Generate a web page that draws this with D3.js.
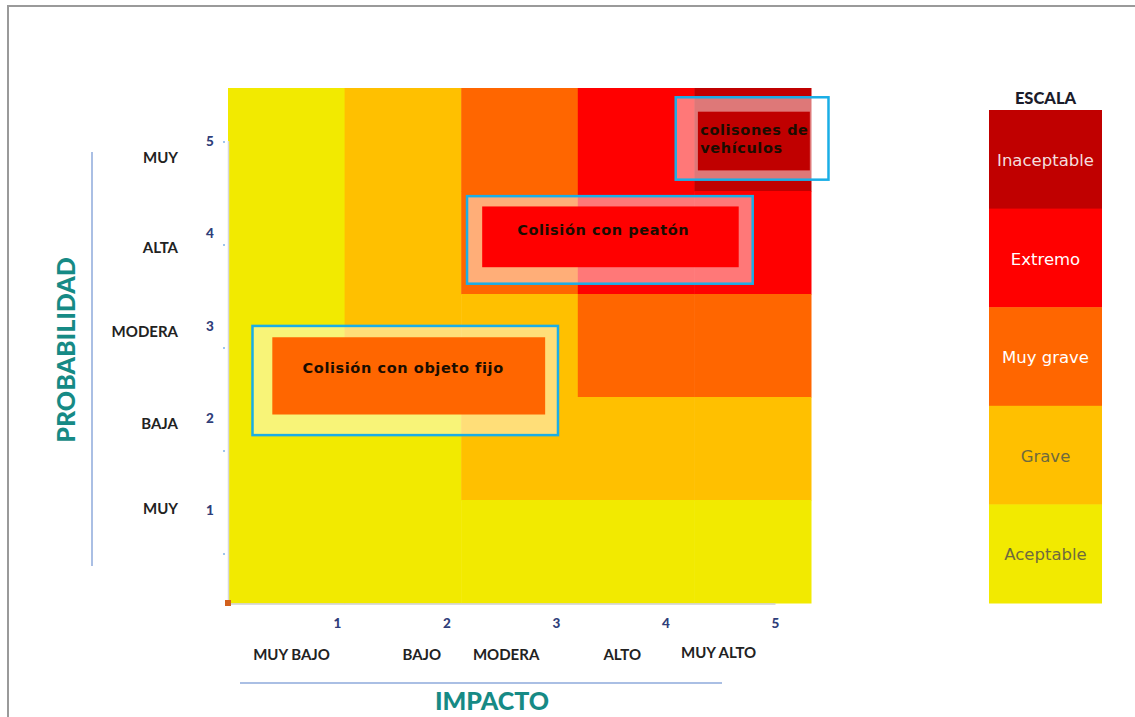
<!DOCTYPE html>
<html><head><meta charset="utf-8">
<script src="https://cdn.jsdelivr.net/npm/d3@7"></script>
<style>
html,body{margin:0;padding:0;background:#fff;overflow:hidden;}
svg{display:block;}
</style></head>
<body>
<svg id="chart" width="1135" height="717"></svg>
<script>
// ---------- DATA ----------
const impactValues = [1, 2, 3, 4, 5];
const probValues = [5, 4, 3, 2, 1];
// risk level per probability row (top = 5) and impact column (1..5)
const riskRow5 = [1, 2, 3, 4, 5];
const riskRow4 = [1, 2, 3, 4, 4];
const riskRow3 = [1, 2, 2, 3, 3];
const riskRow2 = [1, 1, 2, 2, 2];
const riskRow1 = [1, 1, 1, 1, 1];
const riskRows = [riskRow5, riskRow4, riskRow3, riskRow2, riskRow1];

const levelNames = ["Aceptable", "Grave", "Muy grave", "Extremo", "Inaceptable"];
const levelColors = ["#F2EA00", "#FFC000", "#FF6600", "#FF0000", "#C00000"];
const levelTextColors = ["#6f6a3e", "#6f6a3e", "#ffffff", "#ffffff", "#f4dede"];

const xTickValues = [1, 2, 3, 4, 5];
const yTickValues = [1, 2, 3, 4, 5];
const impactLabels = ["MUY BAJO", "BAJO", "MODERA", "ALTO", "MUY ALTO"];
const impactLabelPos = [0.58, 1.77, 2.54, 3.60, 4.48];
const impactLabelLift = [0, 0, 0, 0, 0.02];
const probLabels = ["MUY", "ALTA", "MODERA", "BAJA", "MUY"];
const probLabelPos = [4.82, 3.85, 2.94, 1.94, 1.02];

// annotated risks, in (impact, probability) units
const riskNames = ["colisones de|vehículos", "Colisión con peatón", "Colisión con objeto fijo"];
const riskLevel = [5, 4, 3];
const outerX = [[4.34, 5.65], [2.55, 5.00], [0.71, 3.33]];
const outerY = [[5.41, 4.61], [4.45, 3.60], [3.19, 2.13]];
const innerX = [[4.53, 5.49], [2.68, 4.88], [0.88, 3.22]];
const innerY = [[5.27, 4.70], [4.35, 3.76], [3.08, 2.33]];
const labelX = [4.55, 2.98, 1.14];
const labelY = [5.09, 4.12, 2.78];

// ---------- LAYOUT ----------
const svg = d3.select("#chart");
const gridLeft = 228, gridRight = 811, gridTop = 88, gridBottom = 603;

const xb = d3.scaleBand().domain(impactValues).range([gridLeft, gridRight]);
const yb = d3.scaleBand().domain(probValues).range([gridTop, gridBottom]);
const xc = d3.scaleLinear().domain([0.5, 5.5]).range([gridLeft, gridRight]);
const yc = d3.scaleLinear().domain([0.5, 5.5]).range([gridBottom, gridTop]);
const xs = d3.scaleLinear().domain([0, 5]).range([gridLeft, 775.5]);
const ys = d3.scaleLinear().domain([0, 5]).range([gridBottom, 141]);

const color = d3.scaleOrdinal().domain([1, 2, 3, 4, 5]).range(levelColors);

// outer frame
svg.append("rect").attr("x", 8).attr("y", 6).attr("width", 1200).attr("height", 800)
  .attr("fill", "none").attr("stroke", "#9a9a9a").attr("stroke-width", 2);

// heatmap cells
const cells = [];
riskRows.forEach((row, i) => row.forEach((lv, j) => cells.push({p: probValues[i], im: impactValues[j], lv: lv})));
svg.append("g").selectAll("rect").data(cells).join("rect")
  .attr("x", d => xb(d.im)).attr("y", d => yb(d.p))
  .attr("width", xb.bandwidth() + 0.5).attr("height", yb.bandwidth() + 0.5)
  .attr("fill", d => color(d.lv));

// axes lines
svg.append("line").attr("x1", xs(0) + 0.5).attr("x2", xs(0) + 0.5).attr("y1", ys(5)).attr("y2", ys(0))
  .attr("stroke", "#d8d8d8").attr("stroke-width", 1.5);
svg.append("line").attr("x1", xs(0)).attr("x2", xs(5)).attr("y1", ys(0) + 1).attr("y2", ys(0) + 1)
  .attr("stroke", "#cfcfcf").attr("stroke-width", 1.5);
svg.append("g").selectAll("circle").data(yTickValues).join("circle")
  .attr("cx", gridLeft - 4).attr("cy", d => yc(d) + 2.5).attr("r", 1).attr("fill", "#7fb2e8");
svg.append("rect").attr("x", gridLeft - 3).attr("y", gridBottom - 3).attr("width", 6).attr("height", 6)
  .attr("fill", "#d2601c");

// numeric tick labels
svg.append("g").selectAll("text").data(yTickValues).join("text")
  .attr("x", 210).attr("y", d => ys(d)).attr("dy", "0.35em").attr("text-anchor", "middle")
  .attr("font-family", "Lato, sans-serif").attr("font-weight", 900).attr("font-size", 13.5)
  .attr("fill", "#2f3e7a").text(d => d);
svg.append("g").selectAll("text").data(xTickValues).join("text")
  .attr("x", d => xs(d)).attr("y", 623).attr("dy", "0.35em").attr("text-anchor", "middle")
  .attr("font-family", "Lato, sans-serif").attr("font-weight", 900).attr("font-size", 13.5)
  .attr("fill", "#2f3e7a").text(d => d);

// category labels
svg.append("g").selectAll("text").data(impactLabels).join("text")
  .attr("x", (d, i) => xs(impactLabelPos[i])).attr("y", (d, i) => 655 - impactLabelLift[i] * 100).attr("dy", "0.35em")
  .attr("text-anchor", "middle")
  .attr("font-family", "Lato, sans-serif").attr("font-weight", "bold").attr("font-size", 15)
  .attr("fill", "#222").text(d => d);
svg.append("g").selectAll("text").data(probLabels).join("text")
  .attr("x", 178).attr("y", (d, i) => ys(probLabelPos[i])).attr("dy", "0.35em")
  .attr("text-anchor", "end")
  .attr("font-family", "Lato, sans-serif").attr("font-weight", "bold").attr("font-size", 15)
  .attr("fill", "#222").text(d => d);

// axis titles
svg.append("line").attr("x1", 240).attr("x2", 722).attr("y1", 683).attr("y2", 683)
  .attr("stroke", "#8eaadb").attr("stroke-width", 1.5);
svg.append("text").attr("x", 492).attr("y", 701).attr("dy", "0.35em").attr("text-anchor", "middle")
  .attr("font-family", "Lato, sans-serif").attr("font-weight", 900).attr("font-size", 25)
  .attr("fill", "#168a85").text("IMPACTO");
svg.append("line").attr("x1", 92).attr("x2", 92).attr("y1", 152).attr("y2", 566)
  .attr("stroke", "#8eaadb").attr("stroke-width", 1.5);
svg.append("text").attr("transform", "translate(66,350) rotate(-90)").attr("dy", "0.35em")
  .attr("text-anchor", "middle")
  .attr("font-family", "Lato, sans-serif").attr("font-weight", 900).attr("font-size", 25)
  .attr("fill", "#168a85").text("PROBABILIDAD");

// annotated risks
const defs = svg.append("defs");
const ann = svg.append("g");
riskNames.forEach((name, i) => {
  const ox0 = xc(outerX[i][0]), ox1 = xc(outerX[i][1]);
  const oy0 = yc(outerY[i][0]), oy1 = yc(outerY[i][1]);
  const ix0 = xc(innerX[i][0]), ix1 = xc(innerX[i][1]);
  const iy0 = yc(innerY[i][0]), iy1 = yc(innerY[i][1]);
  ann.append("rect").attr("x", ox0).attr("y", oy0).attr("width", ox1 - ox0).attr("height", oy1 - oy0)
    .attr("fill", "#ffffff").attr("fill-opacity", 0.47)
    .attr("stroke", "#1aaee6").attr("stroke-width", 2.5);
  ann.append("rect").attr("x", ix0).attr("y", iy0).attr("width", ix1 - ix0).attr("height", iy1 - iy0)
    .attr("fill", color(riskLevel[i]));
  defs.append("clipPath").attr("id", "clip" + i).append("rect")
    .attr("x", ix0).attr("y", iy0).attr("width", ix1 - ix0).attr("height", iy1 - iy0);
  const lines = name.split("|");
  const t = ann.append("text").attr("clip-path", "url(#clip" + i + ")")
    .attr("font-family", "'DejaVu Sans', sans-serif").attr("font-weight", "bold")
    .attr("font-size", 14.5).attr("letter-spacing", 0.6).attr("fill", "#1a0d00");
  lines.forEach((ln, k) => {
    t.append("tspan").attr("x", xc(labelX[i])).attr("y", yc(labelY[i]) + k * 18).attr("dy", "0.35em").text(ln);
  });
});

// legend
const legendX = 989, legendW = 113;
const ly = d3.scaleBand().domain([5, 4, 3, 2, 1]).range([110, 603]);
svg.append("text").attr("x", legendX + legendW / 2).attr("y", 98).attr("dy", "0.35em")
  .attr("text-anchor", "middle").attr("font-family", "Lato, sans-serif").attr("font-weight", 900)
  .attr("font-size", 16.5).attr("fill", "#1b1b2a").text("ESCALA");
const lg = svg.append("g").selectAll("g").data([5, 4, 3, 2, 1]).join("g");
lg.append("rect").attr("x", legendX).attr("y", d => ly(d)).attr("width", legendW)
  .attr("height", ly.bandwidth() + 0.5).attr("fill", d => color(d));
lg.append("text").attr("x", legendX + legendW / 2).attr("y", d => ly(d) + ly.bandwidth() / 2 + 1)
  .attr("dy", "0.35em").attr("text-anchor", "middle")
  .attr("font-family", "'DejaVu Sans', sans-serif").attr("font-size", 16.5)
  .attr("fill", d => levelTextColors[d - 1]).text(d => levelNames[d - 1]);
</script>
</body></html>
